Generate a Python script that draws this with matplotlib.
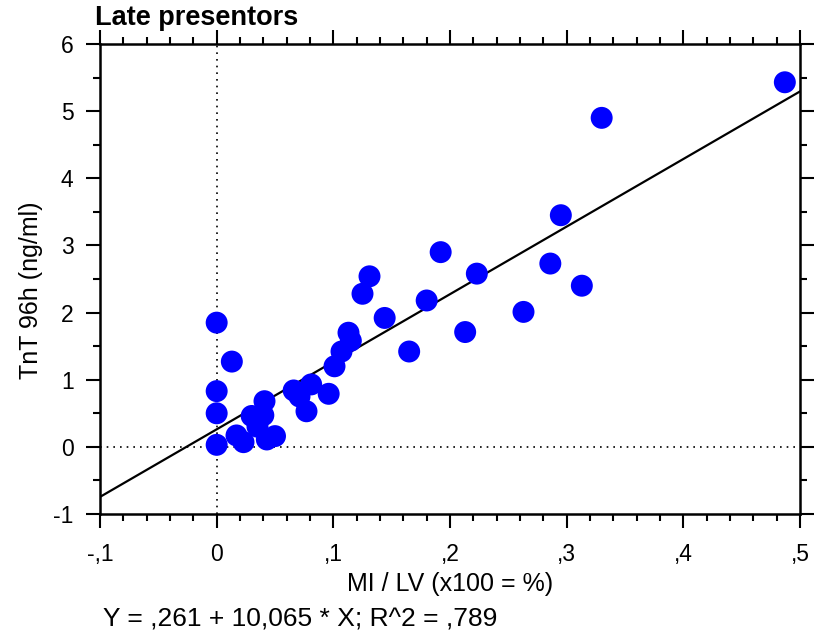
import numpy as np
import matplotlib
matplotlib.use('Agg')
import matplotlib.pyplot as plt
from matplotlib.ticker import MultipleLocator, FuncFormatter

plt.rcParams['font.family'] = ['Liberation Sans', 'DejaVu Sans']
plt.rcParams['axes.unicode_minus'] = False

# MI / LV fraction vs TnT at 96h, late presentors
mi_lv = [0.0, 0.0, 0.0, 0.0, 0.013,
         0.017, 0.023, 0.030, 0.035, 0.040, 0.041, 0.043, 0.050,
         0.066, 0.071, 0.081, 0.077, 0.096,
         0.101, 0.107, 0.113, 0.115, 0.125, 0.131, 0.144, 0.165,
         0.180, 0.192, 0.213, 0.223, 0.263, 0.286, 0.295, 0.313,
         0.330, 0.487]
tnt = [1.85, 0.83, 0.50, 0.03, 1.27,
       0.17, 0.07, 0.46, 0.30, 0.47, 0.68, 0.11, 0.16,
       0.84, 0.75, 0.93, 0.53, 0.79,
       1.20, 1.42, 1.70, 1.58, 2.28, 2.54, 1.92, 1.42,
       2.18, 2.90, 1.71, 2.58, 2.01, 2.73, 3.45, 2.40,
       4.90, 5.43]

intercept = 0.261
slope = 10.065

x_lim = (-0.1, 0.5)
y_lim = (-1, 6)


def comma_fmt(v, pos):
    # SPSS style: decimal comma, no leading zero
    if abs(v) < 1e-9:
        return '0'
    s = ('%g' % round(v, 3)).replace('.', ',')
    s = s.replace('0,', ',')
    return s


fig = plt.figure(figsize=(8.27, 6.35), dpi=100)
ax = fig.add_axes([100 / 827, 121 / 635, 700 / 827, 470 / 635])

ax.axvline(0, color='black', linestyle=(0, (1, 3)), linewidth=1.2, zorder=1)
ax.axhline(0, color='black', linestyle=(0, (1, 3)), linewidth=1.2, zorder=1)

xs = np.array(x_lim)
ax.plot(xs, intercept + slope * xs, color='black', linewidth=1.6, zorder=2)

ax.scatter(mi_lv, tnt, s=250, color='#0000ff', edgecolors='none', zorder=3)

ax.set_xlim(*x_lim)
ax.set_ylim(*y_lim)

ax.xaxis.set_major_locator(MultipleLocator(0.1))
ax.xaxis.set_minor_locator(MultipleLocator(0.02))
ax.yaxis.set_major_locator(MultipleLocator(1))
ax.yaxis.set_minor_locator(MultipleLocator(0.5))
ax.xaxis.set_major_formatter(FuncFormatter(comma_fmt))

ax.tick_params(which='both', direction='out', top=True, right=True,
               width=1.5, labelsize=16.5, colors='black')
ax.tick_params(which='major', length=10)
ax.tick_params(which='minor', length=5)
ax.tick_params(axis='x', which='major', pad=11)
ax.tick_params(axis='y', which='major', pad=9)

for sp in ax.spines.values():
    sp.set_linewidth(1.8)

ax.set_xlabel('MI / LV (x100 = %)', fontsize=18, labelpad=4)
ax.set_ylabel('TnT 96h (ng/ml)', fontsize=18)
ax.yaxis.set_label_coords(-0.081, 0.477)

fig.text(95 / 827, 1 - 25 / 635, 'Late presentors', fontsize=19.5,
         fontweight='bold', ha='left', va='baseline')
fig.text(103 / 827, 1 - 620 / 635, 'Y = ,261 + 10,065 * X; R^2 = ,789',
         fontsize=19, ha='left', va='center')

fig.savefig('out.png', dpi=100)
